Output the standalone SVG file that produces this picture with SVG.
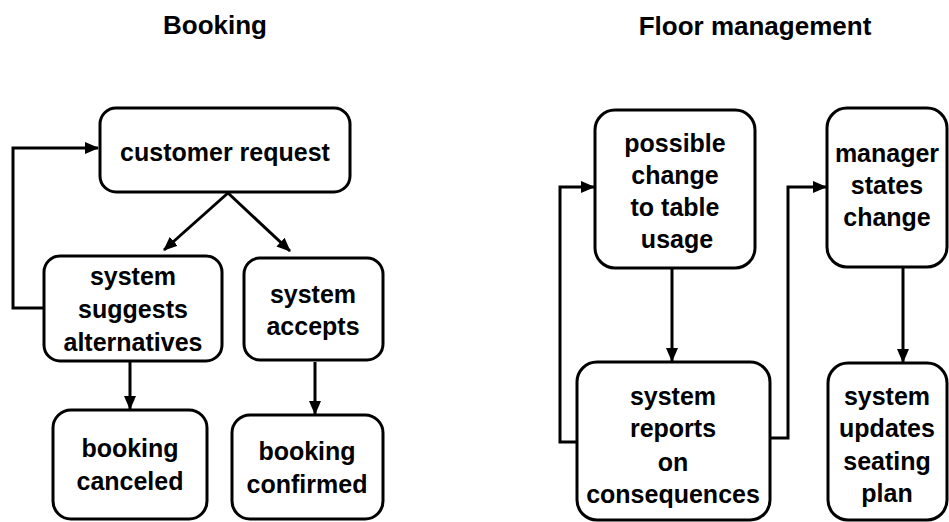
<svg xmlns="http://www.w3.org/2000/svg" width="949" height="522" viewBox="0 0 949 522">
  <style>
    .box { fill: #ffffff; stroke: #000000; stroke-width: 3; }
    .lbl { font-family: "Comic Sans MS", "Liberation Sans", "DejaVu Sans", sans-serif; font-weight: bold; font-size: 25px; fill: #000000; text-anchor: middle; }
    .title { font-family: "Comic Sans MS", "Liberation Sans", "DejaVu Sans", sans-serif; font-weight: bold; font-size: 26px; fill: #000000; text-anchor: middle; }
    .conn { fill: none; stroke: #000000; stroke-width: 3; marker-end: url(#arrow); }
    .plain { fill: none; stroke: #000000; stroke-width: 3; }
  </style>
  <defs>
    <marker id="arrow" markerUnits="userSpaceOnUse" markerWidth="14" markerHeight="12" refX="13" refY="6" orient="auto">
      <path d="M0,0 L14,6 L0,12 z" fill="#000000"/>
    </marker>
  </defs>
  <rect width="949" height="522" fill="#ffffff"/>

  <g id="titles">
    <text class="title" x="215" y="34">Booking</text>
    <text class="title" x="755" y="35">Floor management</text>
  </g>

  <g id="connectors">
    <path class="conn" d="M228,193 L164,250"/>
    <path class="conn" d="M228,193 L290,251"/>
    <path class="conn" d="M44,308 H13 V148 H98"/>
    <path class="conn" d="M130,362 V409"/>
    <path class="conn" d="M315,362 V414"/>
    <path class="conn" d="M672,268 V361"/>
    <path class="conn" d="M903,267 V362"/>
    <path class="conn" d="M577,442 H560 V187 H594"/>
    <path class="conn" d="M770,438 H788 V187 H826"/>
  </g>

  <g id="customer-request">
    <rect class="box" x="100" y="108" width="250" height="84" rx="16"/>
    <text class="lbl" x="225" y="161">customer request</text>
  </g>

  <g id="system-suggests">
    <rect class="box" x="44" y="256" width="178" height="105" rx="16"/>
    <text class="lbl" x="133" y="285">system</text>
    <text class="lbl" x="133" y="318">suggests</text>
    <text class="lbl" x="133" y="351">alternatives</text>
  </g>

  <g id="system-accepts">
    <rect class="box" x="244" y="258" width="139" height="102" rx="16"/>
    <text class="lbl" x="313" y="303">system</text>
    <text class="lbl" x="313" y="335">accepts</text>
  </g>

  <g id="booking-canceled">
    <rect class="box" x="53" y="410" width="154" height="109" rx="18"/>
    <text class="lbl" x="130" y="457">booking</text>
    <text class="lbl" x="130" y="490">canceled</text>
  </g>

  <g id="booking-confirmed">
    <rect class="box" x="232" y="415" width="151" height="104" rx="18"/>
    <text class="lbl" x="307" y="460">booking</text>
    <text class="lbl" x="307" y="493">confirmed</text>
  </g>

  <g id="possible-change">
    <rect class="box" x="595" y="110" width="160" height="158" rx="20"/>
    <text class="lbl" x="675" y="152">possible</text>
    <text class="lbl" x="675" y="184">change</text>
    <text class="lbl" x="675" y="216">to table</text>
    <text class="lbl" x="677" y="248">usage</text>
  </g>

  <g id="manager-states">
    <rect class="box" x="827" y="108" width="120" height="159" rx="20"/>
    <text class="lbl" x="887" y="162">manager</text>
    <text class="lbl" x="887" y="194">states</text>
    <text class="lbl" x="887" y="226">change</text>
  </g>

  <g id="system-reports">
    <rect class="box" x="577" y="362" width="193" height="158" rx="20"/>
    <text class="lbl" x="673" y="405">system</text>
    <text class="lbl" x="673" y="437">reports</text>
    <text class="lbl" x="673" y="471">on</text>
    <text class="lbl" x="673" y="503">consequences</text>
  </g>

  <g id="system-updates">
    <rect class="box" x="828" y="363" width="119" height="157" rx="20"/>
    <text class="lbl" x="887" y="405">system</text>
    <text class="lbl" x="887" y="437">updates</text>
    <text class="lbl" x="887" y="470">seating</text>
    <text class="lbl" x="887" y="502">plan</text>
  </g>
</svg>
